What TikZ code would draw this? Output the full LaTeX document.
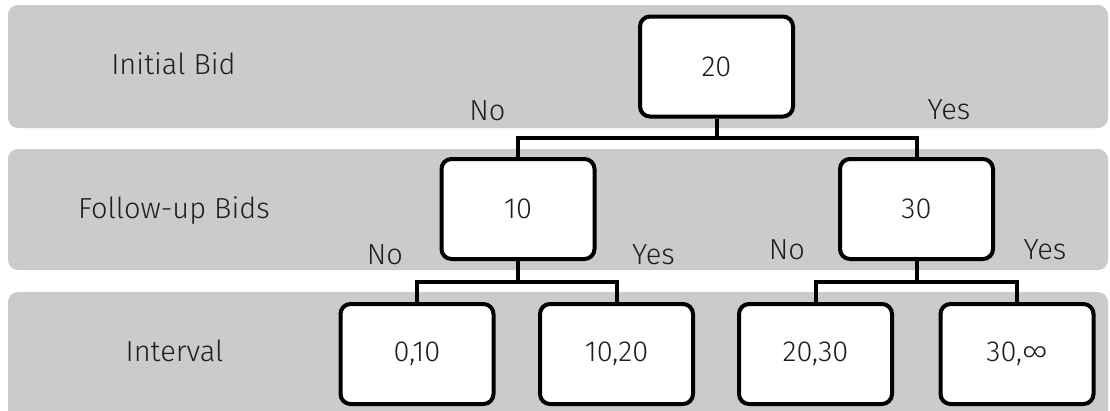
\documentclass[tikz,border=0pt]{standalone}
\usepackage{fontspec}
\setmainfont{Fira Sans Light}
\usetikzlibrary{calc}
\definecolor{bandgray}{RGB}{203,203,203}
\definecolor{inkgray}{RGB}{30,30,30}
\begin{document}
\begin{tikzpicture}[x=1pt,y=-1pt,
  bandbox/.style={fill=bandgray, rounded corners=10pt},
  bidbox/.style={draw=black, line width=4pt, fill=white, rounded corners=10pt,
    minimum width=153pt, minimum height=100pt, inner sep=0pt,
    font=\fontsize{29}{34}\selectfont, text=inkgray},
  textlabel/.style={font=\fontsize{29}{34}\selectfont, text=inkgray,
    inner sep=0pt, anchor=base},
  link/.style={draw=black, line width=4pt}]
\useasboundingbox (0,0) rectangle (1110,410);
\clip (0,0) rectangle (1110,410);

% background bands, one per level
\fill[bandbox] (8,5) rectangle (1108,128);
\fill[bandbox] (8,149) rectangle (1108,270);
\fill[bandbox] (8,292) rectangle (1108,425);

% level captions (placed on their baselines)
\node[textlabel] (lInit) at (173.5,74) {Initial Bid};
\node[textlabel] (lFollow) at (174,218) {Follow-up Bids};
\node[textlabel] (lInt) at (174.5,361) {Interval};

% bid nodes
\node[bidbox] (b20) at (716.5,66.5) {20};
\node[bidbox] (b10) at (518,209) {10};
\node[bidbox] (b30) at (916.5,209) {30};

% interval nodes
\node[bidbox] (i1) at (417,354) {0,10};
\node[bidbox] (i2) at (616.5,354) {10,20};
\node[bidbox] (i3) at (815.5,354) {20,30};
\node[bidbox] (i4) at (1017,354) {30,∞};

% branching connectors
\coordinate (j20) at ($(b20.south)+(0,19)$);
\coordinate (j10) at ($(b10.south)+(0,21)$);
\coordinate (j30) at ($(b30.south)+(0,21)$);
\draw[link] (b20.south) -- (j20) -| (b10.north);
\draw[link] (j20) -| (b30.north);
\draw[link] (b10.south) -- (j10) -| (i1.north);
\draw[link] (j10) -| (i2.north);
\draw[link] (b30.south) -- (j30) -| (i3.north);
\draw[link] (j30) -| (i4.north);

% answer labels (placed on their baselines)
\node[textlabel] (n1) at (487.5,120) {No};
\node[textlabel] (y1) at (949,119) {Yes};
\node[textlabel] (n2) at (385,264) {No};
\node[textlabel] (y2) at (653.5,264) {Yes};
\node[textlabel] (n3) at (787,259) {No};
\node[textlabel] (y3) at (1045,259) {Yes};
\end{tikzpicture}
\end{document}
